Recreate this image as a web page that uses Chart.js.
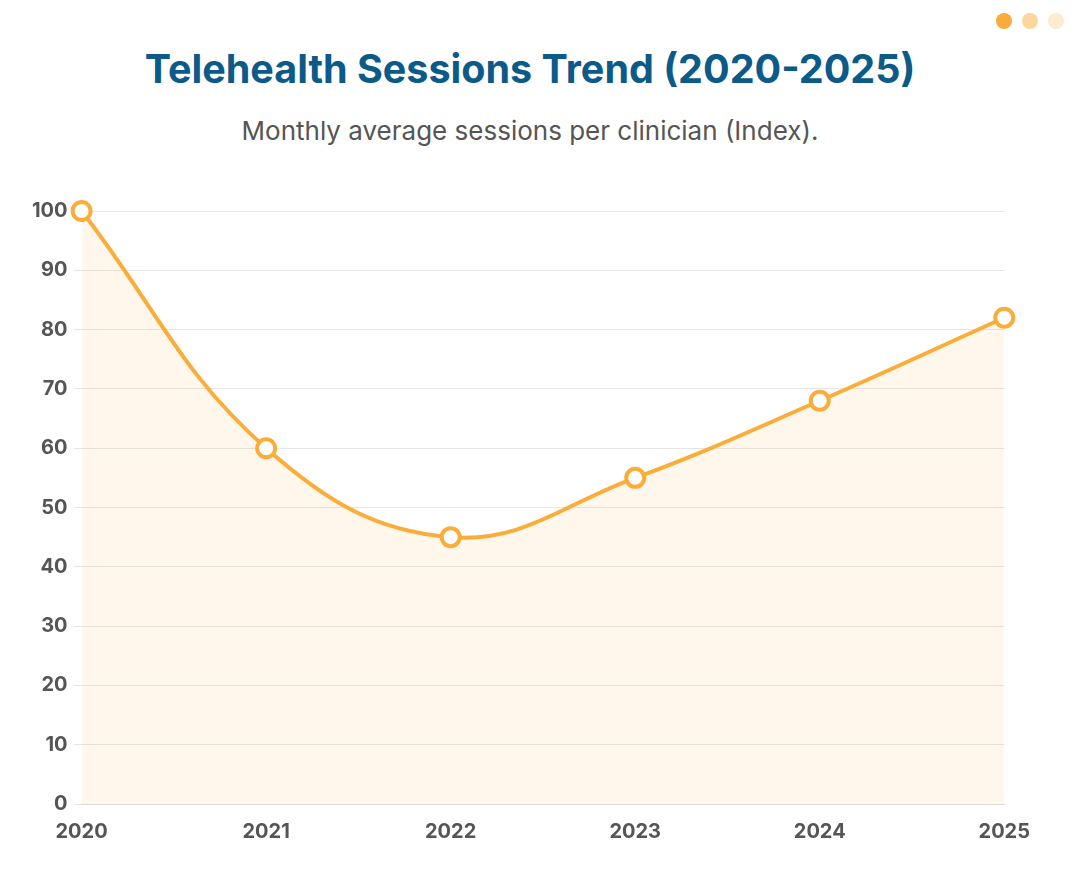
<!DOCTYPE html>
<html>
<head>
<meta charset="utf-8">
<script src="https://cdn.jsdelivr.net/npm/chart.js@4"></script>
<style>
  body { margin: 0; background: #fff; width: 1076px; height: 875px; position: relative; overflow: hidden; font-family: Inter, sans-serif; }
  .dots { position: absolute; top: 13px; right: 12px; display: flex; gap: 10px; }
  .dots span { width: 16px; height: 16px; border-radius: 50%; display: block; }
  h1 { position: absolute; top: 45px; left: 0; width: 1060px; margin: 0; text-align: center; font: bold 39.5px Inter, sans-serif; color: #0b5a87; }
  .sub { position: absolute; top: 115px; left: 0; width: 1060px; text-align: center; font-size: 26px; color: #555; }
  .chart_wp { position: absolute; left: 26px; top: 193px; width: 1012px; height: 659px; }
</style>
</head>
<body>
<div class="dots"><span style="background:#f9ab3b"></span><span style="background:#fdd69e"></span><span style="background:#feeacf"></span></div>
<h1>Telehealth Sessions Trend (2020-2025)</h1>
<div class="sub">Monthly average sessions per clinician (Index).</div>
<div class="chart_wp"><canvas id="myChart"></canvas></div>
<script>
// Data

const years = ["2020", "2021", "2022", "2023", "2024", "2025"];
const sessionsIndex = [100, 60, 45, 55, 68, 82];

// Chart

const ctx = document.getElementById("myChart").getContext("2d");
const myChart = new Chart(ctx, {
  type: "line",
  data: {
    labels: years,
    datasets: [{
      data: sessionsIndex,
      borderColor: '#fbad3a',
      backgroundColor: 'rgba(251,173,58,0.1)',
      borderWidth: 4,
      fill: true,
      tension: 0.4,
      clip: false,
      pointRadius: 9,
      pointBorderWidth: 4,
      pointBackgroundColor: '#fff',
      pointBorderColor: '#fbad3a',
    }, ],
  },
  options: {
    responsive: true,
    maintainAspectRatio: false,
    animation: false,
    plugins: { legend: { display: false }, tooltip: { enabled: false } },
    scales: {
      x: {
        grid: { display: false },
        border: { color: '#d9d9d9' },
        ticks: { color: '#555', font: { family: 'Inter', size: 20, weight: 'bold' }, padding: 8 },
      },
      y: {
        min: 0,
        max: 100,
        ticks: { stepSize: 10, color: '#555', font: { family: 'Inter', size: 20, weight: 'bold' }, padding: 6 },
        grid: { color: '#e6e6e6' },
        border: { display: false },
      },
    },
  },
});
</script>
</body>
</html>
